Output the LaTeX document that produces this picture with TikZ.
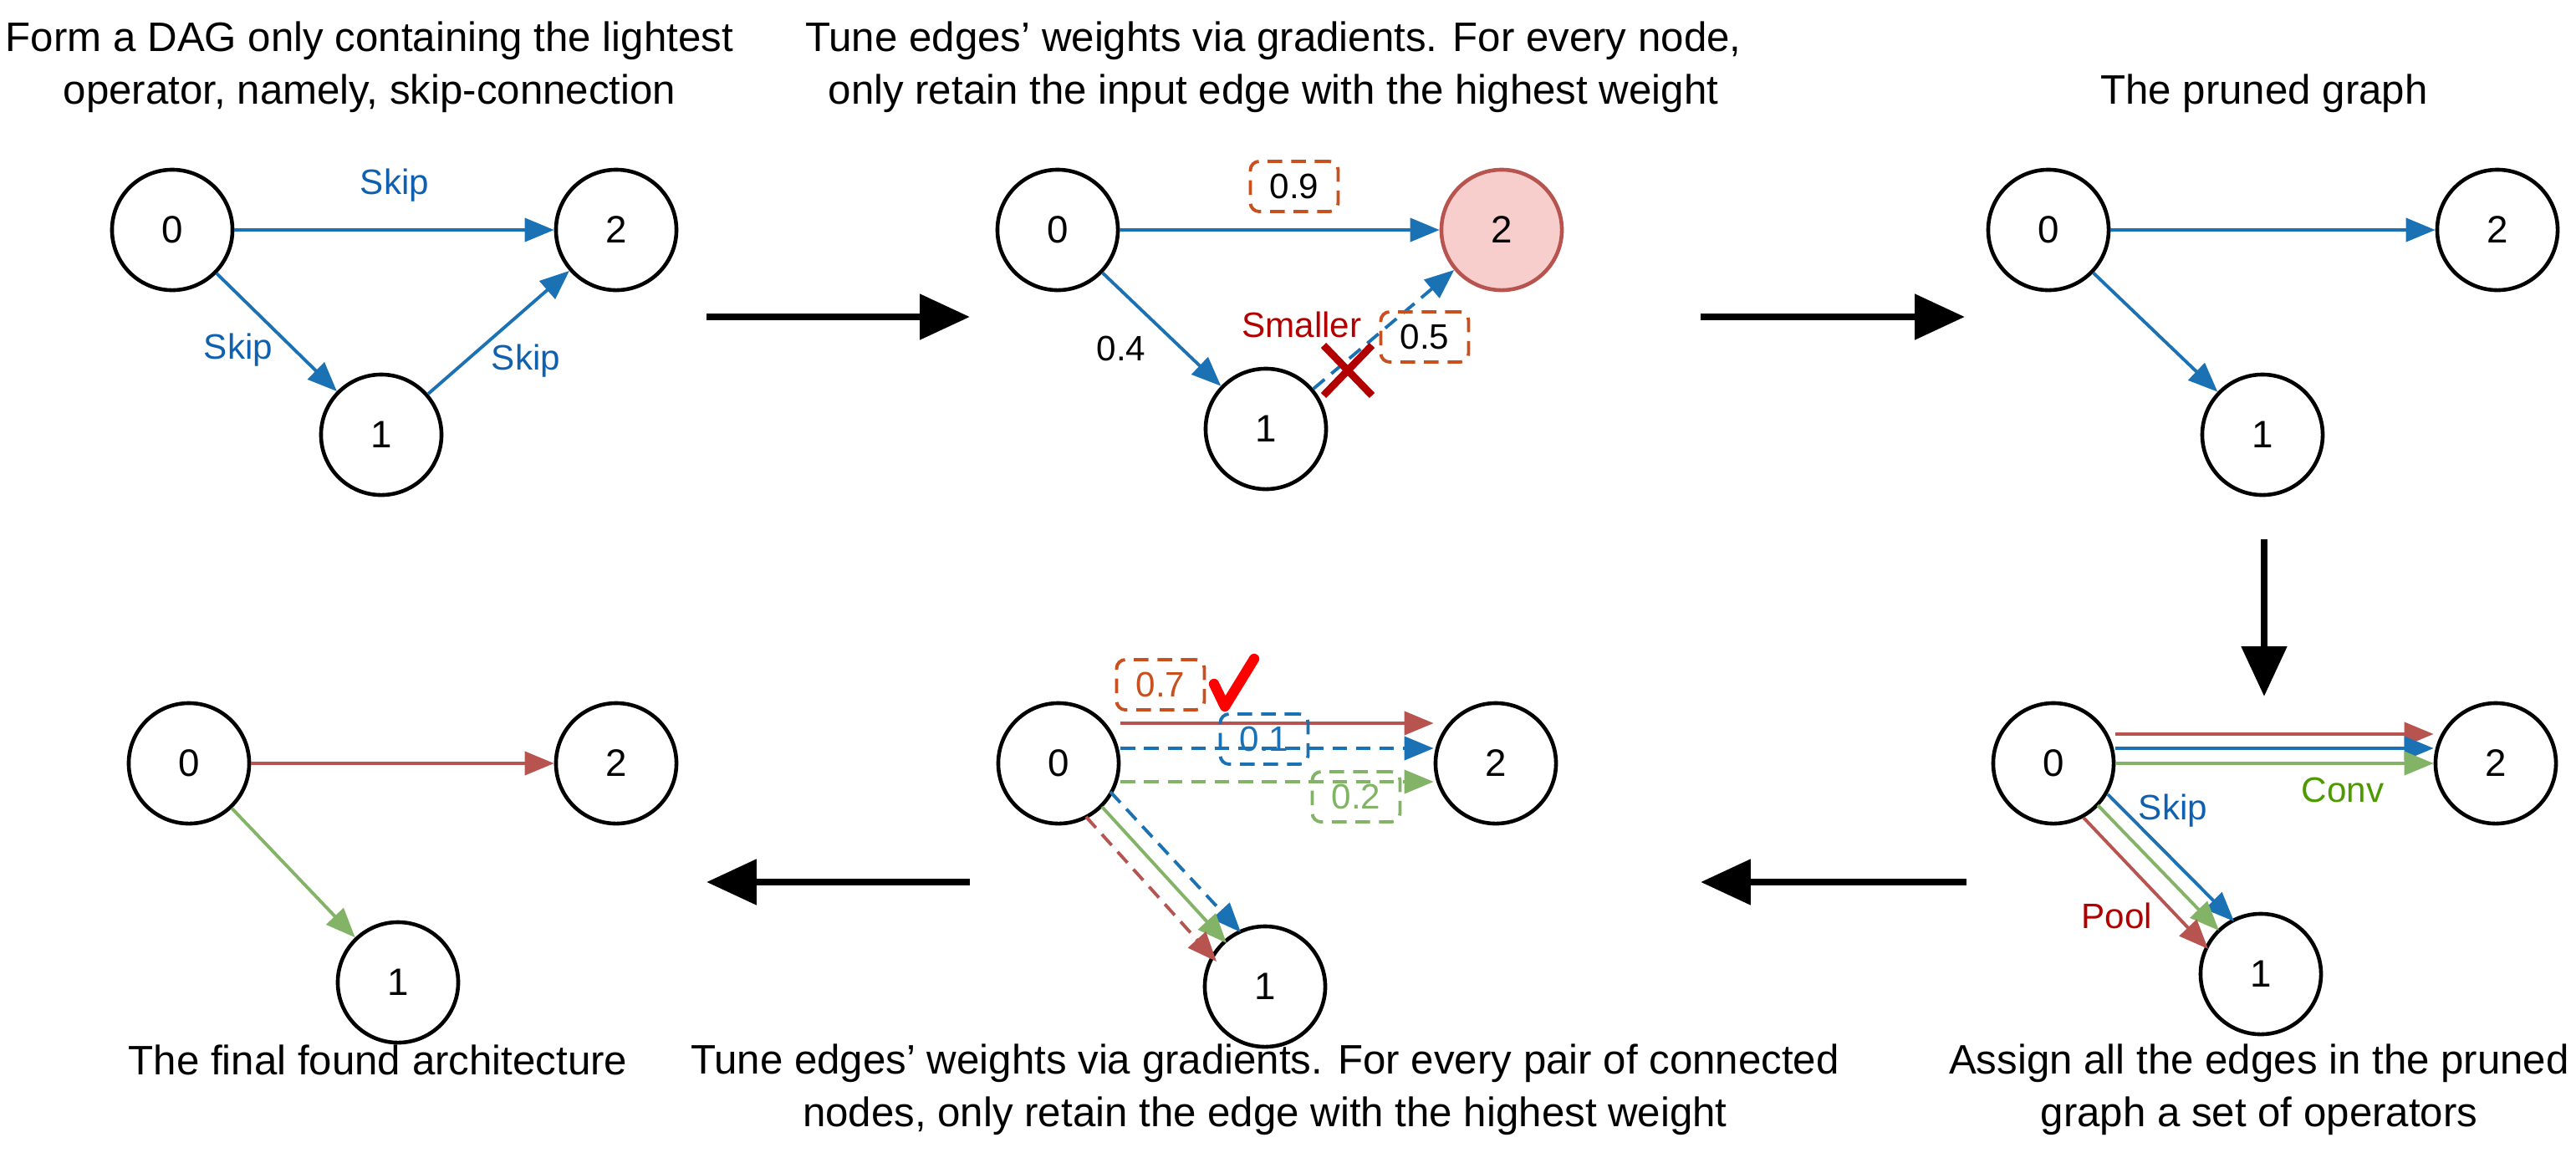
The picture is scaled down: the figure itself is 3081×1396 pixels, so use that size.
\documentclass[tikz,border=0pt]{standalone}
\usepackage{fontspec}
\setmainfont{Liberation Sans}
\usetikzlibrary{arrows.meta}
\definecolor{eblue}{HTML}{1A72B5}
\definecolor{ered}{HTML}{B85450}
\definecolor{egreen}{HTML}{82B366}
\definecolor{tblue}{HTML}{1060B0}
\definecolor{tred}{HTML}{B20000}
\definecolor{tgreen}{HTML}{4D9A00}
\definecolor{orng}{HTML}{C8501E}
\definecolor{pinkf}{HTML}{F8CECC}
\begin{document}
\begin{tikzpicture}[x=0.01cm,y=-0.01cm,
 nd/.style={circle,draw,line width=1.3pt,minimum size=1.44cm,inner sep=0pt,font=\fontsize{13}{15}\selectfont},
 captxt/.style={align=center,font=\fontsize{14}{18}\selectfont},
 lab/.style={font=\fontsize{12}{14}\selectfont},
 ed/.style={line width=1.1pt,-{Triangle[length=10pt,width=8pt]}},
 dsh/.style={dash pattern=on 5pt off 3pt},
 box/.style={draw,dsh,rounded corners=3pt,line width=1.1pt,minimum width=1.05cm,minimum height=0.6cm,font=\fontsize{12}{14}\selectfont},
 big/.style={line width=2.5pt,-{Triangle[length=17pt,width=15pt]}}]
\useasboundingbox (0,0) rectangle (3081,1396);
% panel 1
\node[captxt] (c1) at (442,80) {Form a DAG only containing the lightest\\operator, namely, skip-connection};
\node[nd] (a0) at (206,275) {0};
\node[nd] (a2) at (737,275) {2};
\node[nd] (a1) at (456,520) {1};
\draw[ed,eblue] (a0) -- (a2);
\draw[ed,eblue] (a0) -- (a1);
\draw[ed,eblue] (a1) -- (a2);
\node[lab,text=tblue] (s1) at (472,222) {Skip};
\node[lab,text=tblue] (s2) at (285,419) {Skip};
\node[lab,text=tblue] (s3) at (629,432) {Skip};
\coordinate (r1a) at (845,379); \coordinate (r1b) at (1160,379);
\draw[big] (r1a) -- (r1b);
% panel 2
\node[captxt] (c2) at (1523,80) {Tune edges' weights via gradients. For every node,\\only retain the input edge with the highest weight};
\node[nd] (b0) at (1265,275) {0};
\node[nd,fill=pinkf,draw=ered] (b2) at (1796,275) {2};
\node[nd] (b1) at (1514,513) {1};
\draw[ed,eblue] (b0) -- (b2);
\draw[ed,eblue] (b0) -- (b1);
\draw[ed,eblue,dsh] (b1) -- (b2);
\node[box,draw=orng] (w9) at (1548,223) {0.9};
\node[box,draw=orng] (w5) at (1704,403) {0.5};
\node[lab] (w4) at (1341,417) {0.4};
\node[lab,text=tred] (sm) at (1557,388) {Smaller};
\coordinate (xa) at (1583,413); \coordinate (xb) at (1641,473);
\coordinate (xc) at (1641,413); \coordinate (xd) at (1583,473);
\draw[tred,line width=2.5pt] (xa) -- (xb) (xc) -- (xd);
\coordinate (r2a) at (2034,379); \coordinate (r2b) at (2350,379);
\draw[big] (r2a) -- (r2b);
% panel 3
\node[captxt] (c3) at (2708,112) {The pruned graph};
\node[nd] (p0) at (2450,275) {0};
\node[nd] (p2) at (2987,275) {2};
\node[nd] (p1) at (2706,520) {1};
\draw[ed,eblue] (p0) -- (p2);
\draw[ed,eblue] (p0) -- (p1);
\coordinate (dA) at (2708,645); \coordinate (dB) at (2708,833);
\draw[big] (dA) -- (dB);
% panel 4
\node[captxt] (c4) at (2702,1303) {Assign all the edges in the pruned\\graph a set of operators};
\node[nd] (q0) at (2456,913) {0};
\node[nd] (q2) at (2985,913) {2};
\node[nd] (q1) at (2704,1165) {1};
\draw[ed,ered] ([yshift=0.35cm]q0.east) -- ([yshift=0.35cm]q2.west);
\draw[ed,eblue] ([yshift=0.18cm]q0.east) -- ([yshift=0.18cm]q2.west);
\draw[ed,egreen] (q0.east) -- (q2.west);
\coordinate (qb0) at (2521,950); \coordinate (qb1) at (2672,1102);
\coordinate (qg0) at (2509,963); \coordinate (qg1) at (2654,1113);
\coordinate (qr0) at (2492,978); \coordinate (qr1) at (2641,1135);
\draw[ed,eblue] (qb0) -- (qb1);
\draw[ed,egreen] (qg0) -- (qg1);
\draw[ed,ered] (qr0) -- (qr1);
\node[lab,text=tgreen] (cv) at (2802,945) {Conv};
\node[lab,text=tblue] (sk) at (2599,970) {Skip};
\node[lab,text=tred] (pl) at (2532,1095) {Pool};
\coordinate (r4a) at (2352,1055); \coordinate (r4b) at (2034,1055);
\draw[big] (r4a) -- (r4b);
% panel 5
\node[captxt] (c5) at (1513,1303) {Tune edges' weights via gradients. For every pair of connected\\nodes, only retain the edge with the highest weight};
\node[nd] (m0) at (1266,913) {0};
\node[nd] (m2) at (1789,913) {2};
\node[nd] (m1) at (1513,1180) {1};
\draw[ed,ered] ([yshift=0.48cm]m0.east) -- ([yshift=0.48cm]m2.west);
\draw[ed,eblue,dsh] ([yshift=0.18cm]m0.east) -- ([yshift=0.18cm]m2.west);
\draw[ed,egreen,dsh] ([yshift=-0.22cm]m0.east) -- ([yshift=-0.22cm]m2.west);
\coordinate (mb0) at (1328,947); \coordinate (mb1) at (1484,1115);
\coordinate (mg0) at (1318,965); \coordinate (mg1) at (1467,1128);
\coordinate (mr0) at (1299,977); \coordinate (mr1) at (1455,1150);
\draw[ed,eblue,dsh] (mb0) -- (mb1);
\draw[ed,egreen] (mg0) -- (mg1);
\draw[ed,ered,dsh] (mr0) -- (mr1);
\node[box,draw=orng,text=orng] (w7) at (1388,819) {0.7};
\node[box,draw=eblue,text=eblue] (w1) at (1512,884) {0.1};
\node[box,draw=egreen,text=egreen] (w2) at (1622,953) {0.2};
\coordinate (ck1) at (1452,818); \coordinate (ck2) at (1465,845); \coordinate (ck3) at (1500,788);
\draw[red,line width=3.5pt,line cap=round,line join=round] (ck1) -- (ck2) -- (ck3);
\coordinate (r5a) at (1160,1055); \coordinate (r5b) at (845,1055);
\draw[big] (r5a) -- (r5b);
% panel 6
\node[captxt] (c6) at (452,1268) {The final found architecture};
\node[nd] (f0) at (226,913) {0};
\node[nd] (f2) at (737,913) {2};
\node[nd] (f1) at (476,1175) {1};
\draw[ed,ered] (f0) -- (f2);
\draw[ed,egreen] (f0) -- (f1);
\end{tikzpicture}
\end{document}
